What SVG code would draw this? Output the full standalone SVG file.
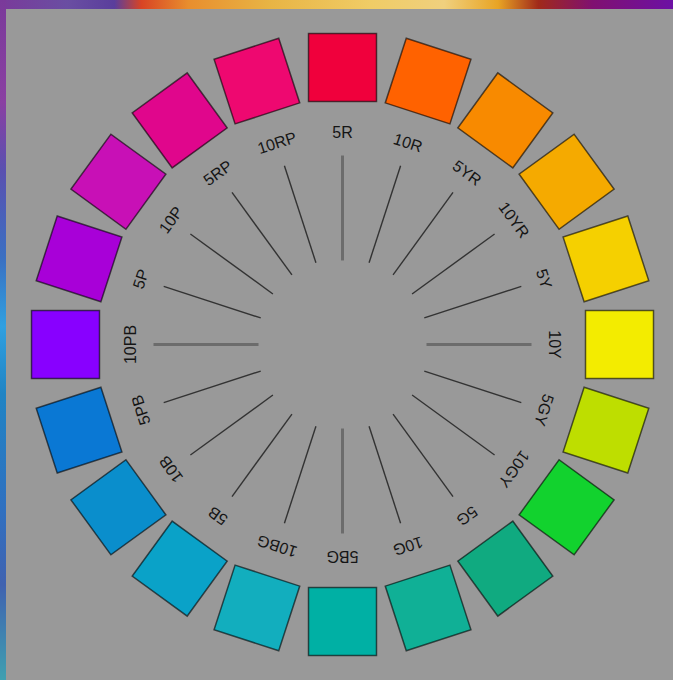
<svg xmlns="http://www.w3.org/2000/svg" width="673" height="680" viewBox="0 0 673 680">
<defs>
<linearGradient id="gTop" x1="0" y1="0" x2="1" y2="0">
<stop offset="0" stop-color="#7a3a9a"/>
<stop offset="0.1" stop-color="#6a4ea2"/>
<stop offset="0.17" stop-color="#5a3e9c"/>
<stop offset="0.21" stop-color="#d84424"/>
<stop offset="0.28" stop-color="#e88e2e"/>
<stop offset="0.4" stop-color="#e8b444"/>
<stop offset="0.55" stop-color="#f0cc66"/>
<stop offset="0.66" stop-color="#f0d07e"/>
<stop offset="0.74" stop-color="#e8a424"/>
<stop offset="0.8" stop-color="#a02a1a"/>
<stop offset="0.88" stop-color="#801070"/>
<stop offset="1" stop-color="#6c10a4"/>
</linearGradient>
<linearGradient id="gLeft" x1="0" y1="0" x2="0" y2="1">
<stop offset="0" stop-color="#7a3a9a"/>
<stop offset="0.15" stop-color="#8a40a2"/>
<stop offset="0.25" stop-color="#5a50b0"/>
<stop offset="0.38" stop-color="#3a70c2"/>
<stop offset="0.48" stop-color="#30a0e0"/>
<stop offset="0.58" stop-color="#2084c4"/>
<stop offset="0.75" stop-color="#3070c0"/>
<stop offset="0.86" stop-color="#4062b0"/>
<stop offset="1" stop-color="#40a0b0"/>
</linearGradient>
</defs>
<style>
.sq{stroke:#000;stroke-opacity:0.6;stroke-width:1.5}
.lb{font-family:"Liberation Sans",Arial,sans-serif;font-size:16px;fill:#151515;text-anchor:middle;dominant-baseline:central}
.sp{stroke:#333;stroke-width:1.4}
.sp4{stroke:#6c6c6c;stroke-width:3}
</style>
<rect x="0" y="0" width="673" height="680" fill="#999999"/>
<rect x="0" y="0" width="673" height="9" fill="url(#gTop)"/>
<rect x="0" y="0" width="6" height="680" fill="url(#gLeft)"/>

<g id="spokes">
<line class="sp4" x1="342.5" y1="155.5" x2="342.5" y2="260.5" transform="rotate(0 342.5 344.5)"/>
<line class="sp" x1="342.5" y1="156.5" x2="342.5" y2="258.5" transform="rotate(18 342.5 344.5)"/>
<line class="sp" x1="342.5" y1="156.5" x2="342.5" y2="258.5" transform="rotate(36 342.5 344.5)"/>
<line class="sp" x1="342.5" y1="156.5" x2="342.5" y2="258.5" transform="rotate(54 342.5 344.5)"/>
<line class="sp" x1="342.5" y1="156.5" x2="342.5" y2="258.5" transform="rotate(72 342.5 344.5)"/>
<line class="sp4" x1="342.5" y1="155.5" x2="342.5" y2="260.5" transform="rotate(90 342.5 344.5)"/>
<line class="sp" x1="342.5" y1="156.5" x2="342.5" y2="258.5" transform="rotate(108 342.5 344.5)"/>
<line class="sp" x1="342.5" y1="156.5" x2="342.5" y2="258.5" transform="rotate(126 342.5 344.5)"/>
<line class="sp" x1="342.5" y1="156.5" x2="342.5" y2="258.5" transform="rotate(144 342.5 344.5)"/>
<line class="sp" x1="342.5" y1="156.5" x2="342.5" y2="258.5" transform="rotate(162 342.5 344.5)"/>
<line class="sp4" x1="342.5" y1="155.5" x2="342.5" y2="260.5" transform="rotate(180 342.5 344.5)"/>
<line class="sp" x1="342.5" y1="156.5" x2="342.5" y2="258.5" transform="rotate(198 342.5 344.5)"/>
<line class="sp" x1="342.5" y1="156.5" x2="342.5" y2="258.5" transform="rotate(216 342.5 344.5)"/>
<line class="sp" x1="342.5" y1="156.5" x2="342.5" y2="258.5" transform="rotate(234 342.5 344.5)"/>
<line class="sp" x1="342.5" y1="156.5" x2="342.5" y2="258.5" transform="rotate(252 342.5 344.5)"/>
<line class="sp4" x1="342.5" y1="155.5" x2="342.5" y2="260.5" transform="rotate(270 342.5 344.5)"/>
<line class="sp" x1="342.5" y1="156.5" x2="342.5" y2="258.5" transform="rotate(288 342.5 344.5)"/>
<line class="sp" x1="342.5" y1="156.5" x2="342.5" y2="258.5" transform="rotate(306 342.5 344.5)"/>
<line class="sp" x1="342.5" y1="156.5" x2="342.5" y2="258.5" transform="rotate(324 342.5 344.5)"/>
<line class="sp" x1="342.5" y1="156.5" x2="342.5" y2="258.5" transform="rotate(342 342.5 344.5)"/>
</g>

<g id="n-5R" transform="rotate(0 342.5 344.5)"><rect class="sq" x="308.5" y="33.5" width="68" height="68" fill="#f0003c"/><text class="lb" x="342.5" y="132.5">5R</text></g>
<g id="n-10R" transform="rotate(18 342.5 344.5)"><rect class="sq" x="308.5" y="33.5" width="68" height="68" fill="#ff6200"/><text class="lb" x="342.5" y="132.5">10R</text></g>
<g id="n-5YR" transform="rotate(36 342.5 344.5)"><rect class="sq" x="308.5" y="33.5" width="68" height="68" fill="#f88a00"/><text class="lb" x="342.5" y="132.5">5YR</text></g>
<g id="n-10YR" transform="rotate(54 342.5 344.5)"><rect class="sq" x="308.5" y="33.5" width="68" height="68" fill="#f5aa00"/><text class="lb" x="342.5" y="132.5">10YR</text></g>
<g id="n-5Y" transform="rotate(72 342.5 344.5)"><rect class="sq" x="308.5" y="33.5" width="68" height="68" fill="#f5d000"/><text class="lb" x="342.5" y="132.5">5Y</text></g>
<g id="n-10Y" transform="rotate(90 342.5 344.5)"><rect class="sq" x="308.5" y="33.5" width="68" height="68" fill="#f3ec00"/><text class="lb" x="342.5" y="132.5">10Y</text></g>
<g id="n-5GY" transform="rotate(108 342.5 344.5)"><rect class="sq" x="308.5" y="33.5" width="68" height="68" fill="#bede00"/><text class="lb" x="342.5" y="132.5">5GY</text></g>
<g id="n-10GY" transform="rotate(126 342.5 344.5)"><rect class="sq" x="308.5" y="33.5" width="68" height="68" fill="#12d22e"/><text class="lb" x="342.5" y="132.5">10GY</text></g>
<g id="n-5G" transform="rotate(144 342.5 344.5)"><rect class="sq" x="308.5" y="33.5" width="68" height="68" fill="#10aa80"/><text class="lb" x="342.5" y="132.5">5G</text></g>
<g id="n-10G" transform="rotate(162 342.5 344.5)"><rect class="sq" x="308.5" y="33.5" width="68" height="68" fill="#10b096"/><text class="lb" x="342.5" y="132.5">10G</text></g>
<g id="n-5BG" transform="rotate(180 342.5 344.5)"><rect class="sq" x="308.5" y="33.5" width="68" height="68" fill="#00b0a4"/><text class="lb" x="342.5" y="132.5">5BG</text></g>
<g id="n-10BG" transform="rotate(198 342.5 344.5)"><rect class="sq" x="308.5" y="33.5" width="68" height="68" fill="#12aebe"/><text class="lb" x="342.5" y="132.5">10BG</text></g>
<g id="n-5B" transform="rotate(216 342.5 344.5)"><rect class="sq" x="308.5" y="33.5" width="68" height="68" fill="#0aa2c8"/><text class="lb" x="342.5" y="132.5">5B</text></g>
<g id="n-10B" transform="rotate(234 342.5 344.5)"><rect class="sq" x="308.5" y="33.5" width="68" height="68" fill="#0a8ecc"/><text class="lb" x="342.5" y="132.5">10B</text></g>
<g id="n-5PB" transform="rotate(252 342.5 344.5)"><rect class="sq" x="308.5" y="33.5" width="68" height="68" fill="#0a78d4"/><text class="lb" x="342.5" y="132.5">5PB</text></g>
<g id="n-10PB" transform="rotate(270 342.5 344.5)"><rect class="sq" x="308.5" y="33.5" width="68" height="68" fill="#8800ff"/><text class="lb" x="342.5" y="132.5">10PB</text></g>
<g id="n-5P" transform="rotate(288 342.5 344.5)"><rect class="sq" x="308.5" y="33.5" width="68" height="68" fill="#a800d8"/><text class="lb" x="342.5" y="132.5">5P</text></g>
<g id="n-10P" transform="rotate(306 342.5 344.5)"><rect class="sq" x="308.5" y="33.5" width="68" height="68" fill="#c810b6"/><text class="lb" x="342.5" y="132.5">10P</text></g>
<g id="n-5RP" transform="rotate(324 342.5 344.5)"><rect class="sq" x="308.5" y="33.5" width="68" height="68" fill="#e0068c"/><text class="lb" x="342.5" y="132.5">5RP</text></g>
<g id="n-10RP" transform="rotate(342 342.5 344.5)"><rect class="sq" x="308.5" y="33.5" width="68" height="68" fill="#ee0870"/><text class="lb" x="342.5" y="132.5">10RP</text></g>
</svg>
